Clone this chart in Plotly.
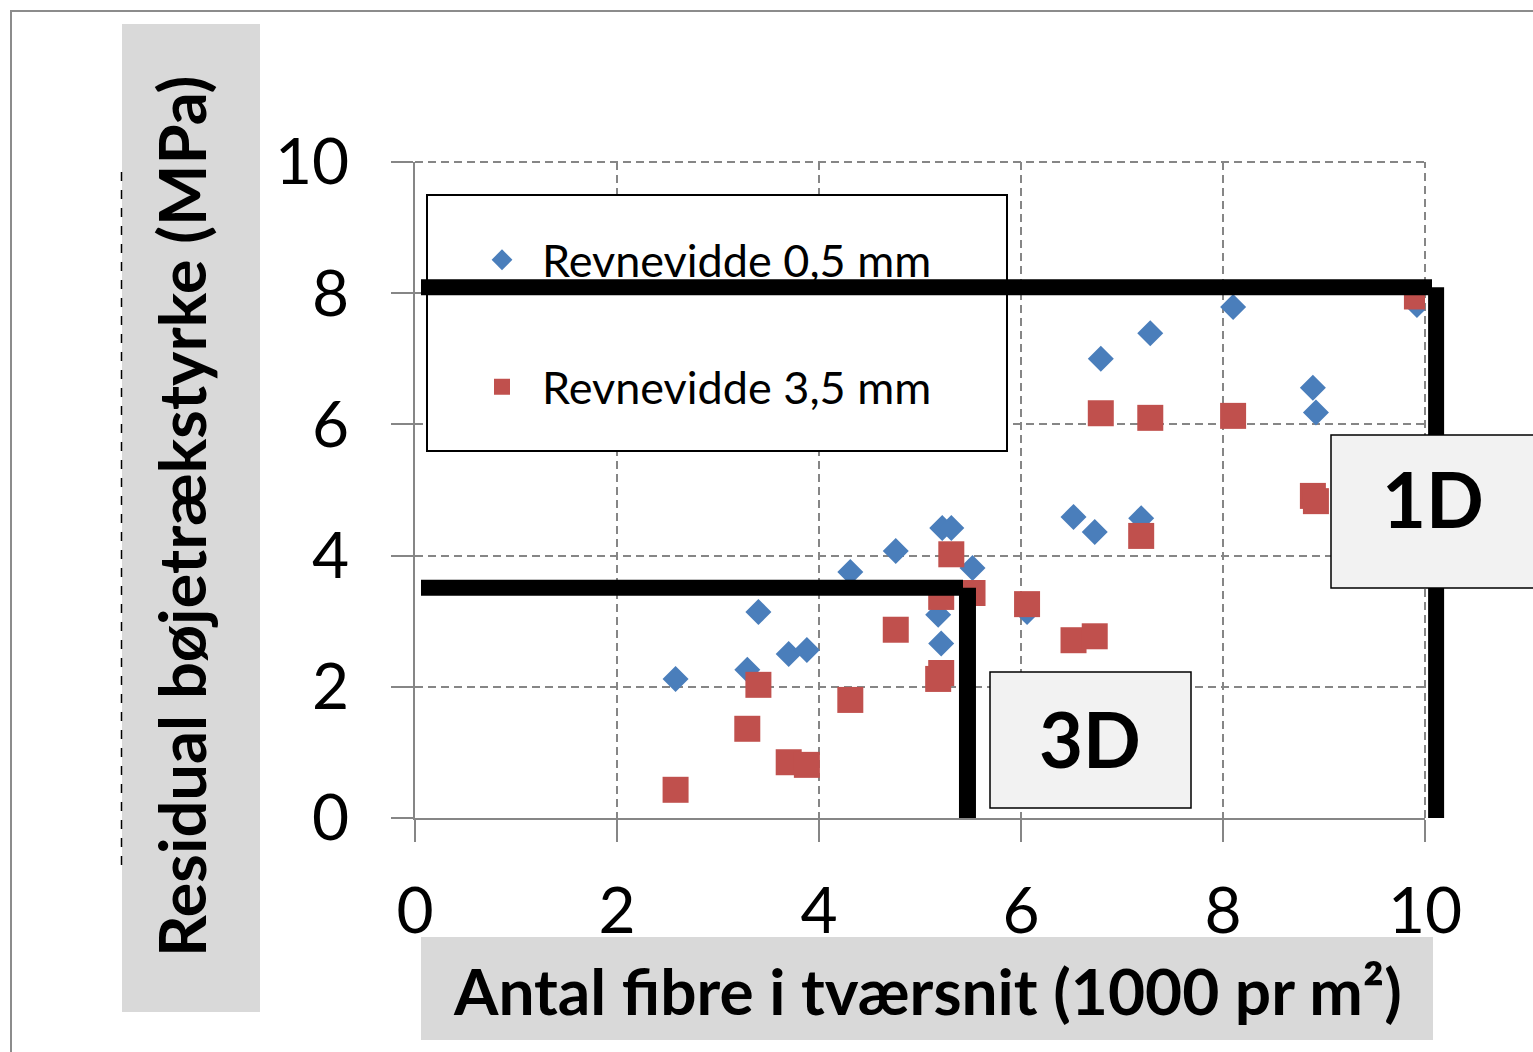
import plotly.graph_objects as go

# ---- data ----
fibres = [2.58, 3.29, 3.40, 3.70, 3.88, 4.31, 4.76, 5.18, 5.21, 5.22, 5.31, 5.52,
          6.06, 6.52, 6.73, 6.79, 7.19, 7.28, 8.10, 8.89, 8.92, 9.92]
strength_05 = [2.12, 2.26, 3.14, 2.50, 2.56, 3.75, 4.07, 3.10, 2.66, 4.42, 4.42, 3.81,
               3.14, 4.59, 4.36, 7.00, 4.57, 7.39, 7.79, 6.56, 6.18, 7.82]
fibres_35 = [2.58, 3.29, 3.40, 3.70, 3.88, 4.31, 4.76, 5.18, 5.21, 5.21, 5.31, 5.52,
             6.06, 6.52, 6.73, 6.79, 7.19, 7.28, 8.10, 8.89, 8.92, 9.92]
strength_35 = [0.43, 1.36, 2.03, 0.85, 0.81, 1.80, 2.87, 2.12, 2.21, 3.37, 4.02, 3.43,
               3.26, 2.71, 2.77, 6.17, 4.30, 6.10, 6.13, 4.91, 4.83, 7.95]
series_names = ["Revnevidde 0,5 mm", "Revnevidde 3,5 mm"]
tick_vals = [0, 2, 4, 6, 8, 10]
limit_3d = [3.51, 5.47]   # (strength level, fibre count) of the 3D limit
limit_1d = [8.09, 10.11]  # (strength level, fibre count) of the 1D limit
x_title = "Antal fibre i tværsnit (1000 pr m²)"
y_title = "Residual bøjetrækstyrke (MPa)"

W, H = 1533, 1052
L, R, T, B = 415, 1425, 162, 818
XR = [0, 10]
YR = [0, 10]


def px(x):
    return (x - L) / (R - L)


def py(y):
    return (B - y) / (B - T)


def dx(v):  # data value -> fraction of x domain
    return (v - XR[0]) / (XR[1] - XR[0])


def dy(v):
    return (v - YR[0]) / (YR[1] - YR[0])


FONT = "Lato"
BLUE = "#4A7EBB"
RED = "#C0504D"
GRID = "#868686"
DASH = "8px,5px"

fig = go.Figure()
fig.add_trace(go.Scatter(x=fibres, y=strength_05, mode="markers", name=series_names[0],
                         marker=dict(symbol="diamond", size=20, color=BLUE),
                         legend="legend"))
fig.add_trace(go.Scatter(x=fibres_35, y=strength_35, mode="markers", name=series_names[1],
                         marker=dict(symbol="square", size=26, color=RED),
                         legend="legend2"))

shapes = []
# outer border
shapes.append(dict(type="rect", xref="paper", yref="paper", x0=px(11), x1=px(1560),
                   y0=py(1080), y1=py(11), line=dict(color="#8c8c8c", width=2),
                   layer="below"))
# axis title backgrounds
shapes.append(dict(type="rect", xref="paper", yref="paper", x0=px(122), x1=px(260),
                   y0=py(1012), y1=py(24), fillcolor="#d9d9d9", line=dict(width=0),
                   layer="below"))
shapes.append(dict(type="rect", xref="paper", yref="paper", x0=px(421), x1=px(1433),
                   y0=py(1040), y1=py(937), fillcolor="#d9d9d9", line=dict(width=0),
                   layer="below"))
shapes.append(dict(type="line", xref="paper", yref="paper", x0=px(121.5), x1=px(121.5),
                   y0=py(865), y1=py(165), line=dict(color="black", width=1.5, dash="dash")))
# gridlines on the far edges (x = 10, y = 10)
shapes.append(dict(type="line", xref="paper", yref="paper", x0=dx(XR[1]), x1=dx(XR[1]),
                   y0=0, y1=1, line=dict(color=GRID, width=2, dash=DASH), layer="below"))
shapes.append(dict(type="line", xref="paper", yref="paper", x0=0, x1=1,
                   y0=dy(YR[1]), y1=dy(YR[1]), line=dict(color=GRID, width=2, dash=DASH),
                   layer="below"))
# legend frame
shapes.append(dict(type="rect", xref="paper", yref="paper", x0=px(427), x1=px(1007),
                   y0=py(451), y1=py(195), fillcolor="white",
                   line=dict(color="black", width=2), layer="above"))
# thick limit lines
shapes.append(dict(type="line", xref="paper", yref="paper", x0=px(421), x1=px(1432),
                   y0=dy(limit_1d[0]), y1=dy(limit_1d[0]), line=dict(color="black", width=16)))
shapes.append(dict(type="line", xref="paper", yref="paper", x0=dx(limit_1d[1]),
                   x1=dx(limit_1d[1]), y0=dy(limit_1d[0]), y1=dy(0),
                   line=dict(color="black", width=16)))
shapes.append(dict(type="line", xref="paper", yref="paper", x0=px(421), x1=px(963),
                   y0=dy(limit_3d[0]), y1=dy(limit_3d[0]), line=dict(color="black", width=16)))
shapes.append(dict(type="line", xref="paper", yref="paper", x0=dx(limit_3d[1]),
                   x1=dx(limit_3d[1]), y0=dy(limit_3d[0]), y1=dy(0),
                   line=dict(color="black", width=17)))
# label boxes
shapes.append(dict(type="rect", xref="paper", yref="paper", x0=px(990), x1=px(1191),
                   y0=py(808), y1=py(672), fillcolor="#f2f2f2",
                   line=dict(color="black", width=1.5)))
shapes.append(dict(type="rect", xref="paper", yref="paper", x0=px(1331), x1=px(1600),
                   y0=py(588), y1=py(435), fillcolor="#f2f2f2",
                   line=dict(color="black", width=1.5)))

bold = dict(family=FONT, color="black", weight="bold")
annotations = [
    dict(text=y_title, xref="paper", yref="paper", x=px(181), y=py(517), showarrow=False,
         xanchor="center", yanchor="middle", textangle=-90, font=dict(**bold, size=65)),
    dict(text=x_title, xref="paper", yref="paper", x=px(927), y=py(990), showarrow=False,
         xanchor="center", yanchor="middle", font=dict(**bold, size=64)),
    dict(text="<b>3D</b>", xref="paper", yref="paper", x=px(1090), y=py(738), showarrow=False,
         xanchor="center", yanchor="middle", font=dict(**bold, size=76)),
    dict(text="<b>1D</b>", xref="paper", yref="paper", x=px(1433), y=py(498), showarrow=False,
         xanchor="center", yanchor="middle", font=dict(**bold, size=76)),
]

axis_common = dict(range=XR, tickvals=tick_vals, showgrid=True, gridcolor=GRID,
                   gridwidth=2, griddash=DASH, showline=True, linecolor=GRID, linewidth=2,
                   ticks="outside", ticklen=22, tickwidth=2, tickcolor=GRID,
                   zeroline=False, tickfont=dict(family=FONT, size=64, color="black"))

leg_common = dict(bgcolor="rgba(0,0,0,0)", borderwidth=0, itemwidth=70,
                  font=dict(family=FONT, size=45, color="black"),
                  xanchor="left", yanchor="middle")

fig.update_layout(
    width=W, height=H, autosize=False,
    margin=dict(l=L, r=W - R, t=T, b=H - B),
    paper_bgcolor="white", plot_bgcolor="white",
    xaxis=dict(**axis_common, ticklabelstandoff=14),
    yaxis=dict(**{**axis_common, "range": YR}, ticklabelstandoff=29),
    shapes=shapes, annotations=annotations,
    legend=dict(**leg_common, x=px(462), y=py(260)),
    legend2=dict(**leg_common, x=px(462), y=py(387)),
    showlegend=True,
)

fig.write_html("out.html", config={"displayModeBar": False},
               post_script="document.body.style.margin='0px';")
